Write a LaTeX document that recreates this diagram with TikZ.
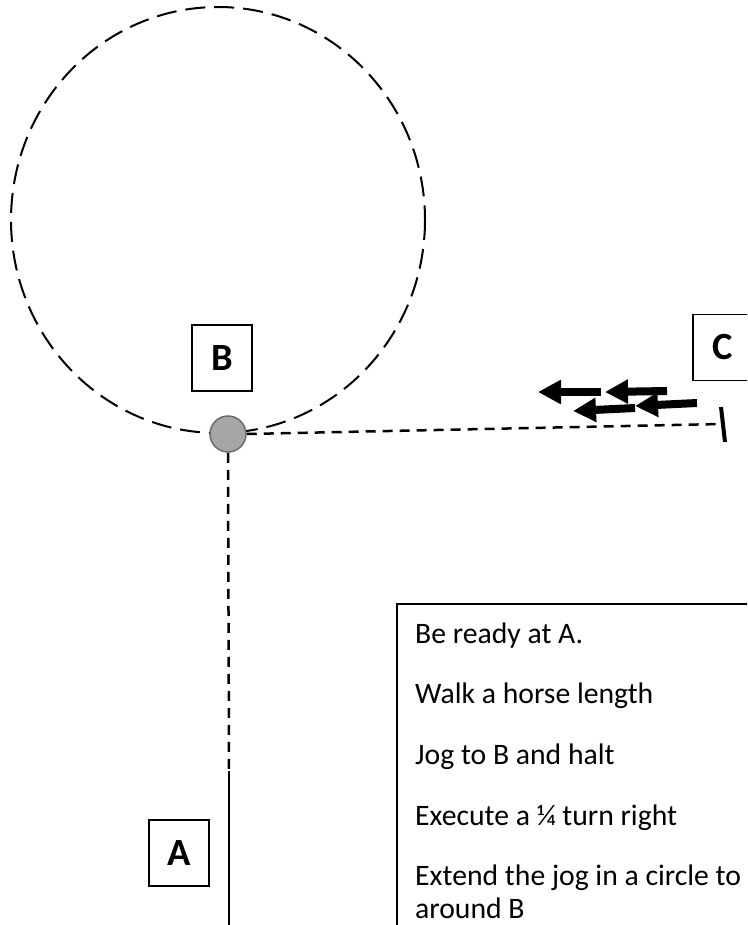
\documentclass[tikz,border=0pt]{standalone}
\usepackage{fontspec}
\setmainfont{Carlito}
\usetikzlibrary{arrows.meta}

\begin{document}
\begin{tikzpicture}[x=1pt,y=-1pt,
            letter/.style={draw, line width=1.5pt, minimum width=60pt, minimum height=66pt, inner sep=0pt, font=\fontsize{38.5}{42}\selectfont\bfseries},
            spot/.style={shape=circle, draw=gray!85!black, fill=gray!70, line width=1.5pt, minimum size=36pt, inner sep=0pt},
            trail/.style={line width=2.5pt, dash pattern=on 10pt off 7pt},
            loop/.style={line width=2pt, dash pattern=on 20pt off 9pt},
            move/.style={line width=8pt, -{Triangle[length=23pt,width=23pt]}},
            step line/.style={anchor=base west, inner sep=0pt, font=\fontsize{29.7}{36}\selectfont}]
        \useasboundingbox (0,0) rectangle (747,925);
        \clip (0,0) rectangle (747,925);

        % the circle around B
        \draw[loop] (218,220) ellipse [x radius=207, y radius=213];

        \node[spot] (dot) at (228,434) {};
        \node[letter] (B) at (222,358) {B};
        \node[letter] (A) at (179,853) {A};
        \node[letter] (C) at (723,347.5) {C};

        \coordinate (walk) at (229,771);
        \coordinate (foot) at (229,930);
        \coordinate (halt) at (721,424);
        \coordinate (tick top) at (721,407);
        \coordinate (tick bottom) at (725,442);

        \draw[trail] (dot.south) -- (walk);
        \draw[line width=1.3pt] (walk) -- (foot);
        \draw[trail] (dot.east) -- (halt);
        \draw[line width=4pt] (tick top) -- (tick bottom);

        % direction of travel
        \draw[move] (601,392) -- (538,392);
        \draw[move] (667,391) -- (605,392);
        \draw[move] (697,403) -- (635,406);
        \draw[move] (635,408) -- (573,411);

        % the steps
        \draw[line width=1.5pt] (397,604) rectangle (760,940);
        \foreach \y/\txt in {643/Be ready at A., 703/Walk a horse length, 764/Jog to B and halt,
                825/Execute a ¼ turn right, 885/Extend the jog in a circle to t, 918/around B}
            \node[step line] (row\y) at (415,\y) {\txt};
    \end{tikzpicture}
\end{document}
